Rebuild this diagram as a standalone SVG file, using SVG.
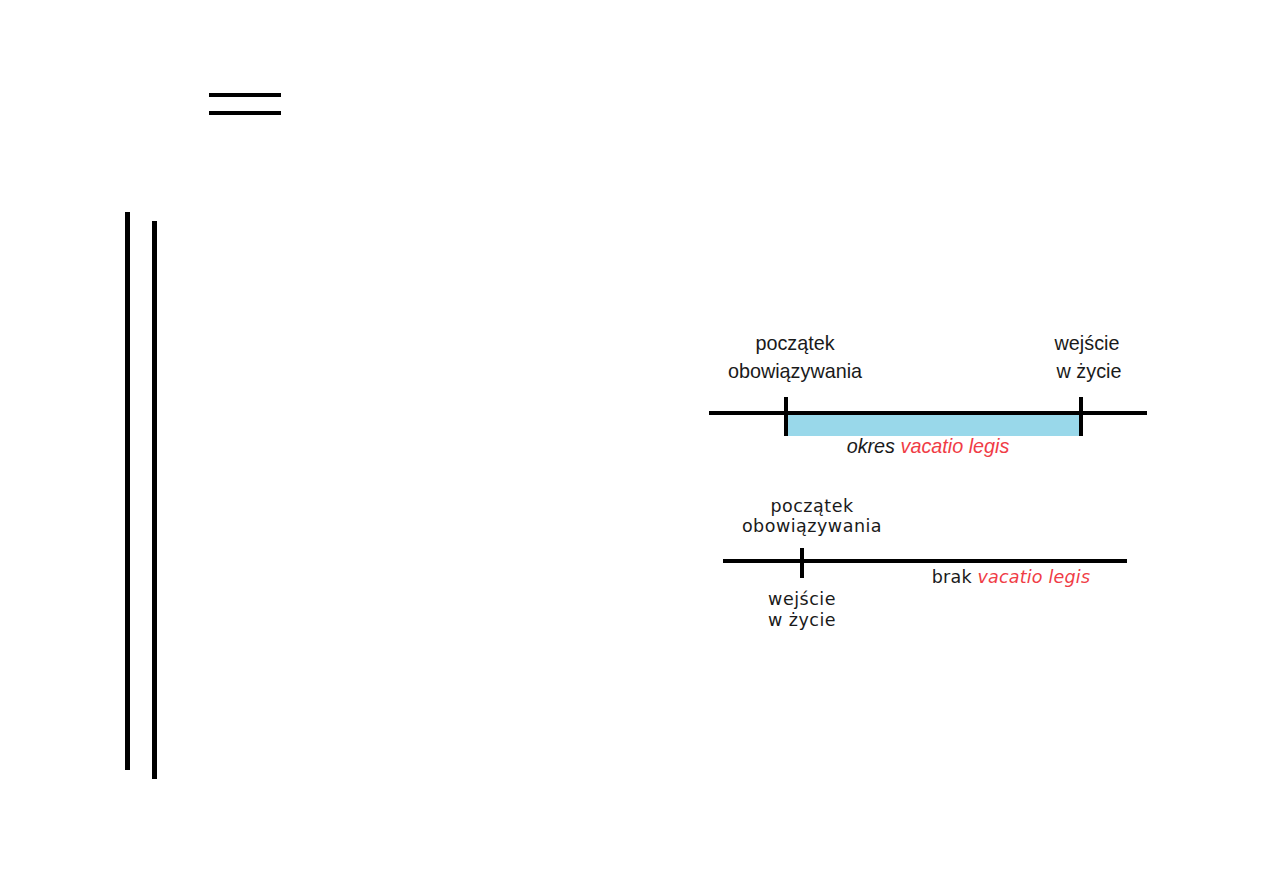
<svg xmlns="http://www.w3.org/2000/svg" width="1263" height="893" viewBox="0 0 1263 893">
<style>
.bar{fill:#000}
.ln{stroke:#000;stroke-width:4;fill:none}
.t1{font-family:"Liberation Sans",Arial,sans-serif;font-size:19.8px;fill:#1a1a1a;text-anchor:middle}
.t2{font-family:"DejaVu Sans",Verdana,sans-serif;font-size:17.5px;letter-spacing:0.5px;fill:#1a1a1a;text-anchor:middle}
.red{fill:#f03c46}
</style>
<rect width="1263" height="893" fill="#fff"/>
<g id="decor">
<rect class="bar" x="209" y="93" width="72" height="4"/>
<rect class="bar" x="209" y="111" width="72" height="4"/>
<rect class="bar" x="125" y="212" width="5" height="558"/>
<rect class="bar" x="152" y="221" width="5" height="558"/>
</g>
<g id="timeline1">
<rect x="786" y="413" width="295" height="23" fill="#99d8ea"/>
<line class="ln" x1="709" y1="413" x2="1147" y2="413"/>
<line class="ln" x1="786" y1="397" x2="786" y2="436"/>
<line class="ln" x1="1081" y1="397" x2="1081" y2="436"/>
<text class="t1" x="795" y="350">początek</text>
<text class="t1" x="795" y="378">obowiązywania</text>
<text class="t1" x="1087" y="350">wejście</text>
<text class="t1" x="1089" y="378">w życie</text>
<text class="t1" x="928" y="453" font-style="italic" font-size="19.5">okres <tspan class="red">vacatio legis</tspan></text>
</g>
<g id="timeline2">
<line class="ln" x1="723" y1="561" x2="1127" y2="561"/>
<line class="ln" x1="802" y1="548" x2="802" y2="578"/>
<text class="t2" x="812" y="512">początek</text>
<text class="t2" x="812" y="532">obowiązywania</text>
<text class="t2" x="802" y="605">wejście</text>
<text class="t2" x="802" y="626">w życie</text>
<text class="t2" x="1011" y="583" font-size="18.5" style="letter-spacing:0.2px">brak <tspan class="red" font-style="italic">vacatio legis</tspan></text>
</g>
</svg>
